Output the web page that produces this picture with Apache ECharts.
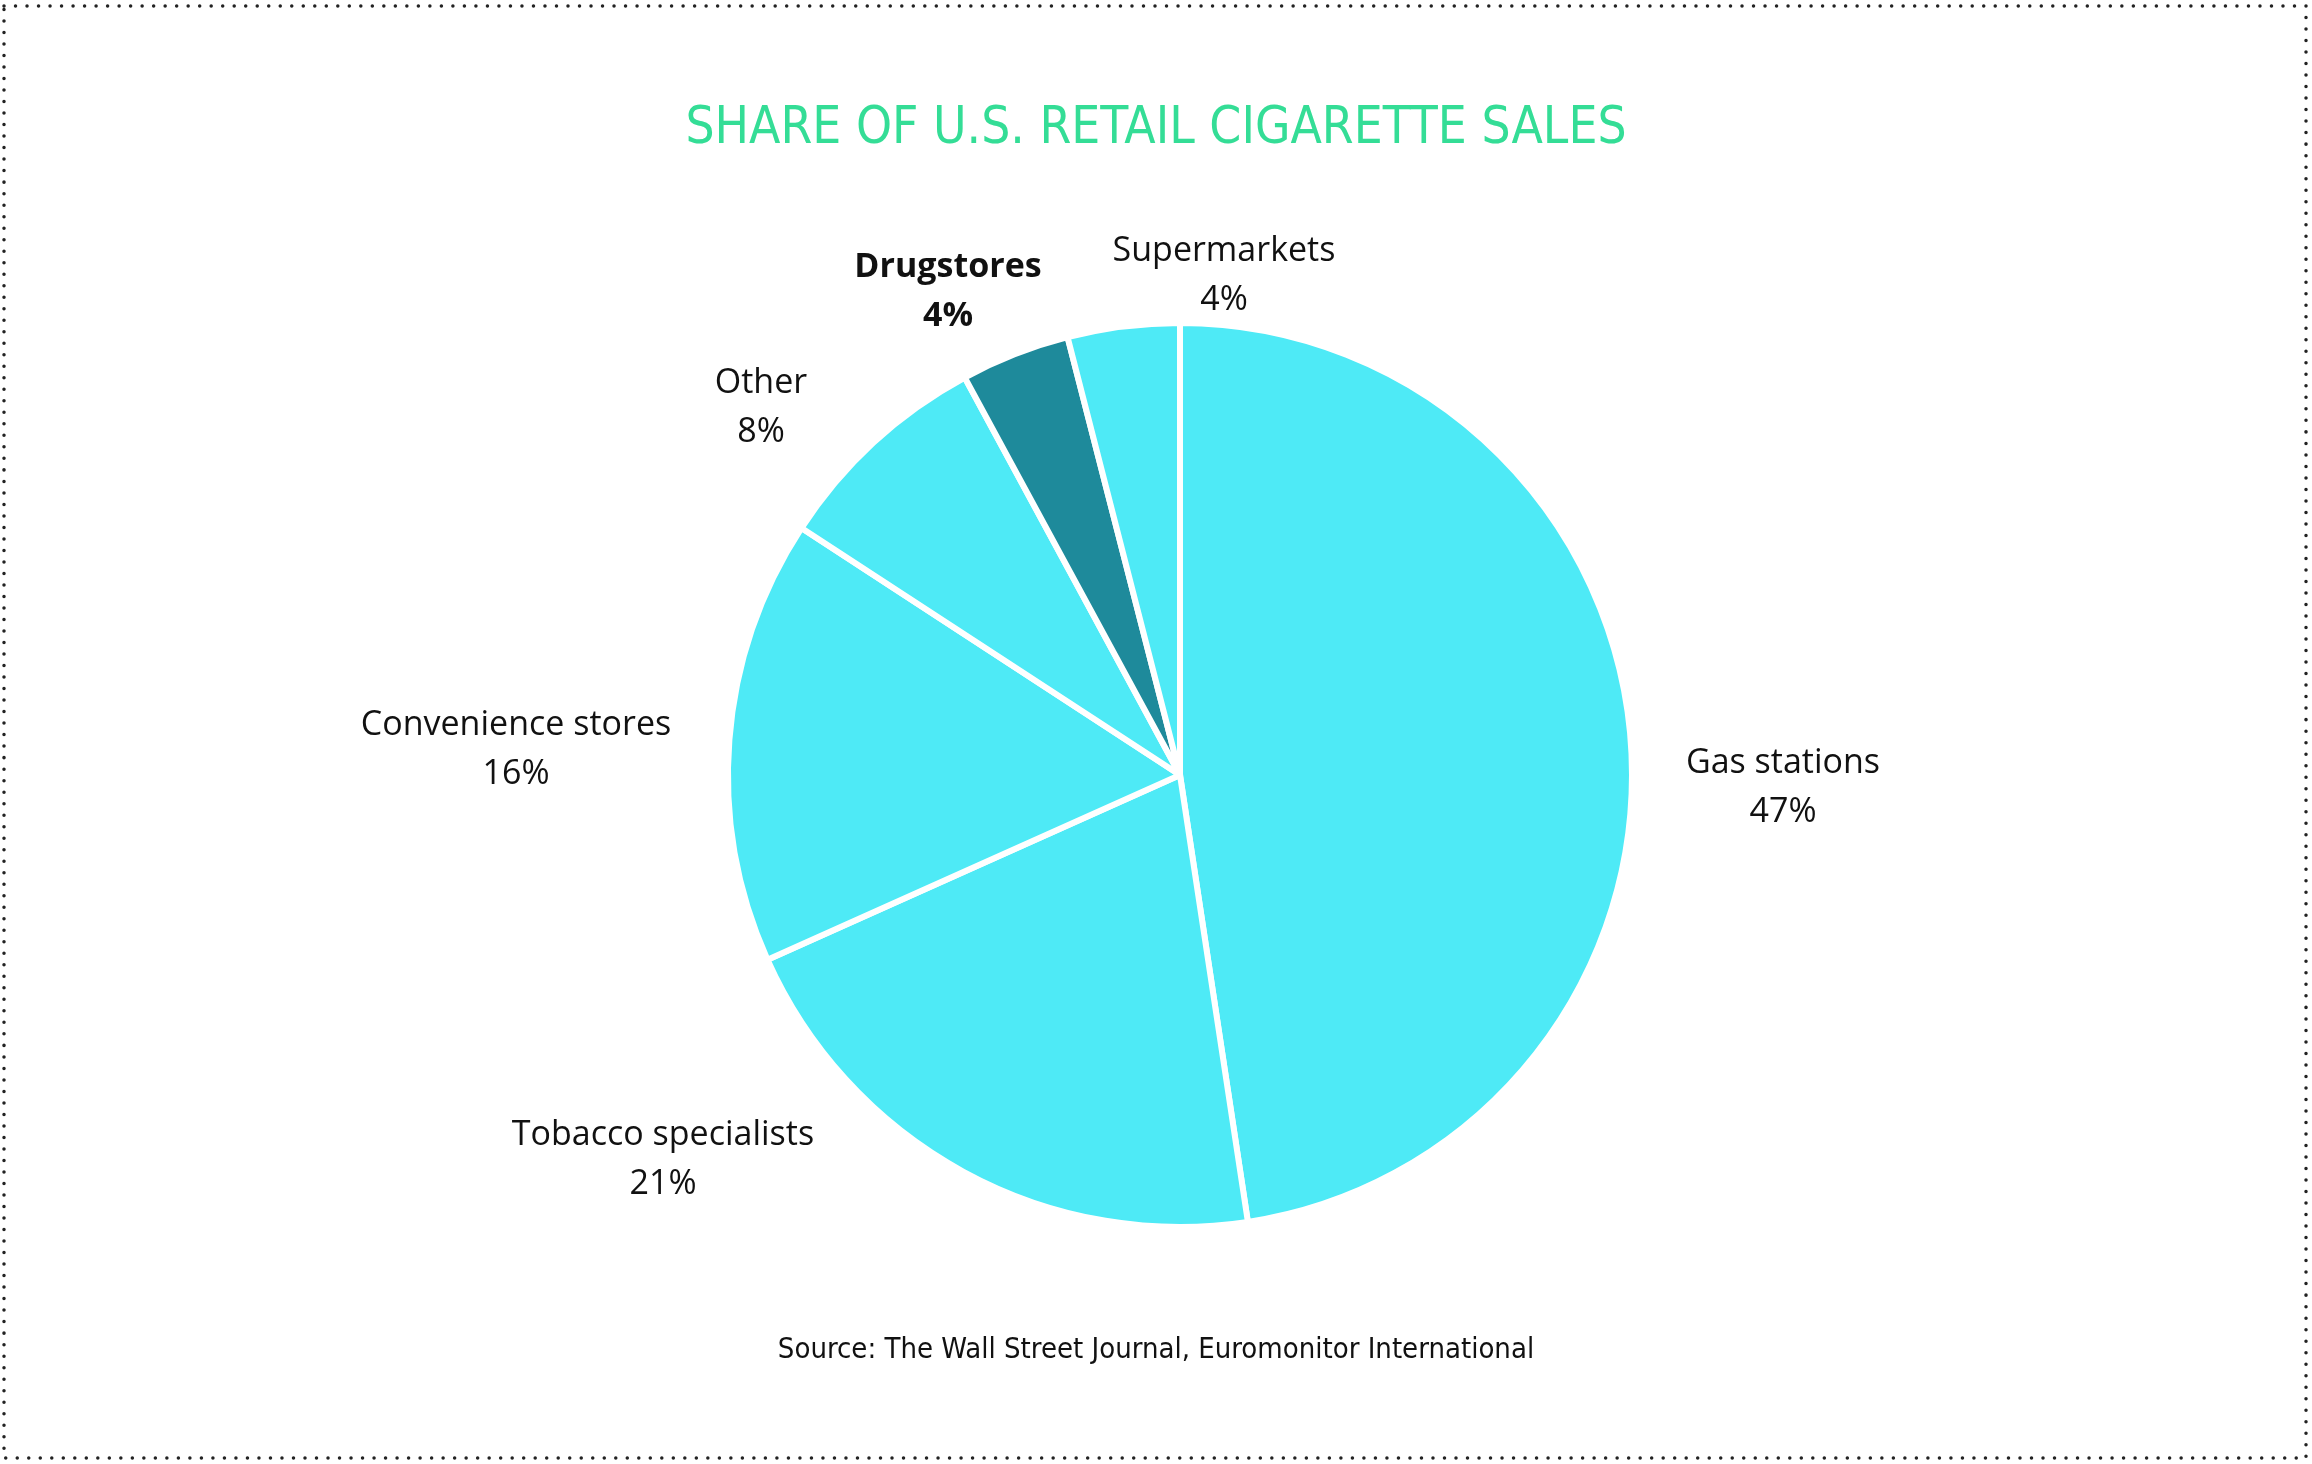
<!DOCTYPE html>
<html>
<head>
<meta charset="utf-8">
<title>Share of U.S. retail cigarette sales</title>
<script src="https://cdn.jsdelivr.net/npm/echarts@6/dist/echarts.min.js"></script>
<style>
  html, body { margin: 0; padding: 0; background: #fff; }
  #chart { width: 2312px; height: 1464px; }
</style>
</head>
<body>
<div id="chart"></div>
<script>
// data (slice angles), labels show rounded shares
const channels = ['Gas stations', 'Tobacco specialists', 'Convenience stores', 'Other', 'Drugstores', 'Supermarkets'];
const shares = [47.6, 20.7, 15.9, 7.9, 3.9, 4.0];
const highlighted = 'Drugstores';

const titleText = 'SHARE OF U.S. RETAIL CIGARETTE SALES';
const sourceText = 'Source: The Wall Street Journal, Euromonitor International';

// label placement, px from the pie centre
const pieCenter = [1180, 775];
const labelOffsets = [[603, 13], [-517, 385], [-664, -25], [-419, -367], [-232, -483], [44, -499]];

const narrowFont = "'Liberation Sans Narrow', 'DejaVu Sans Condensed', 'Roboto', sans-serif";
const labelFont = "'Open Sans', 'Noto Sans', sans-serif";

const chart = echarts.init(document.getElementById('chart'));

const option = {
  backgroundColor: '#ffffff',
  animation: false,
  title: [
    {
      text: titleText,
      left: 'center',
      top: 95,
      textStyle: {
        color: '#34dd96',
        fontSize: 51,
        lineHeight: 60,
        fontWeight: 'normal',
        fontFamily: narrowFont
      }
    },
    {
      text: sourceText,
      left: 'center',
      top: 1327,
      textStyle: {
        color: '#111111',
        fontSize: 29,
        lineHeight: 36,
        fontWeight: 'normal',
        fontFamily: narrowFont
      }
    }
  ],
  graphic: [
    {
      type: 'rect',
      silent: true,
      z: -10,
      shape: { x: 4, y: 6, width: 2302, height: 1452 },
      style: {
        fill: 'none',
        stroke: '#222222',
        lineWidth: 3.5,
        lineDash: [0.01, 11.5],
        lineCap: 'round'
      }
    }
  ],
  series: [
    {
      type: 'pie',
      center: pieCenter,
      radius: 452,
      startAngle: 90,
      clockwise: true,
      percentPrecision: 0,
      itemStyle: {
        borderColor: '#ffffff',
        borderWidth: 6
      },
      labelLine: { show: false },
      label: {
        show: true,
        position: 'outside',
        formatter: function (p) {
          const k = p.name === highlighted ? 'b' : 'n';
          return '{' + k + '|' + p.name + '}\n{' + k + '|' + p.percent + '%}';
        },
        rich: {
          n: { fontSize: 34, lineHeight: 49, color: '#111111', align: 'center', fontFamily: labelFont },
          b: { fontSize: 34, lineHeight: 49, color: '#111111', align: 'center', fontWeight: 'bold', fontFamily: labelFont }
        }
      },
      labelLayout: function (params) {
        const o = labelOffsets[params.dataIndex];
        return {
          x: pieCenter[0] + o[0],
          y: pieCenter[1] + o[1],
          align: 'center',
          verticalAlign: 'middle'
        };
      },
      emphasis: { disabled: true },
      data: channels.map(function (name, i) {
        return {
          name: name,
          value: shares[i],
          itemStyle: { color: name === highlighted ? '#1e8a9b' : '#4eeaf6' }
        };
      })
    }
  ]
};

chart.setOption(option);

window.addEventListener('resize', function () {
  chart.resize();
});
</script>
</body>
</html>
